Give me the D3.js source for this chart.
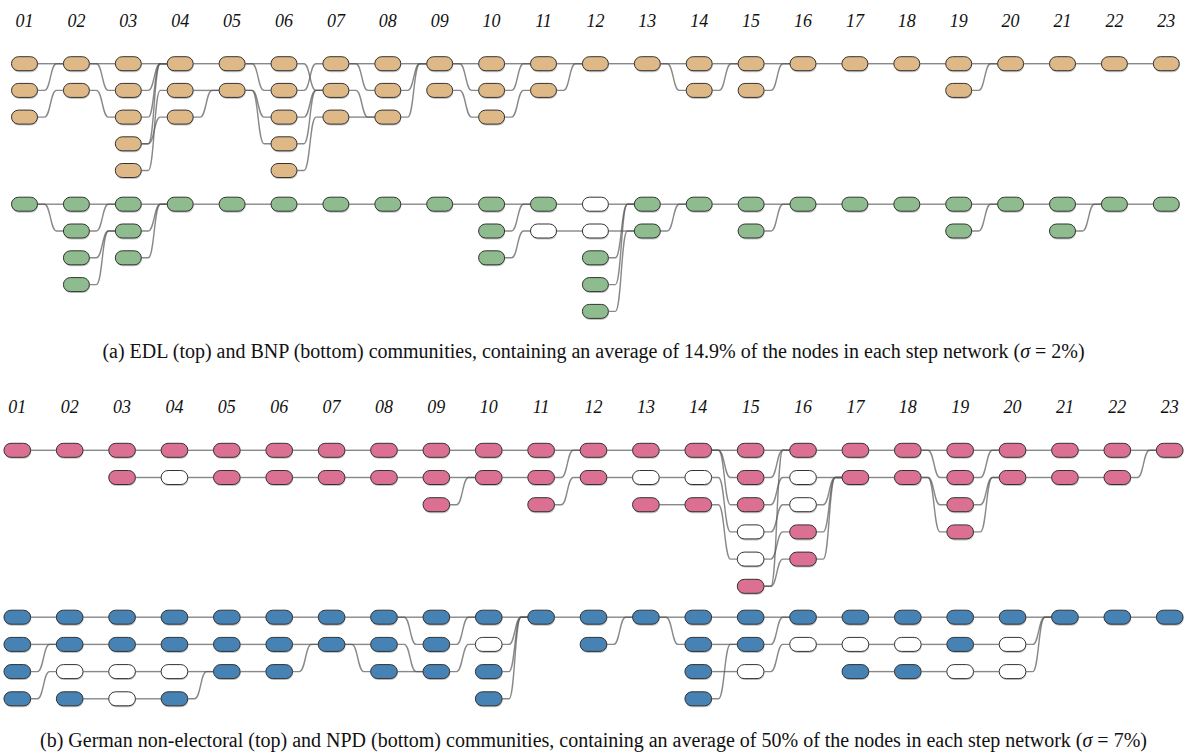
<!DOCTYPE html>
<html>
<head>
<meta charset="utf-8">
<script src="https://cdn.jsdelivr.net/npm/d3@7"></script>
<style>
  body { margin: 0; background: #fff; }
  .step { font-family: "Liberation Serif", "Times New Roman", "DejaVu Serif", serif; font-style: italic; font-size: 18px; fill: #111; }
  .caption { font-family: "Liberation Serif", "Times New Roman", "DejaVu Serif", serif; font-size: 20px; fill: #111; }
  .link { fill: none; stroke: #555; stroke-opacity: 0.7; stroke-width: 1.4; }
  .node { stroke: #333; stroke-width: 1; }
  .shadow { fill: #c4c4c4; stroke: none; }
</style>
</head>
<body>
<svg id="chart" width="1187" height="756"></svg>
<script>
// step labels
const steps = ["01","02","03","04","05","06","07","08","09","10","11","12",
               "13","14","15","16","17","18","19","20","21","22","23"];

// nodes per step: c = member community, w = other (white)
// links per step transition: "from-to" row pairs
const edlNodes = ["ccc","cc","ccccc","ccc","cc","ccccc","ccc","ccc","cc","ccc","cc","c",
                  "c","cc","cc","c","c","c","cc","c","c","c","c"];
const edlLinks = ["0-0 1-0 2-1","0-0 0-1 1-2","0-0 1-0 2-0 3-0 3-2 4-1","0-0 1-1 2-1",
                  "0-0 0-1 1-2 1-3","0-1 1-0 2-1 3-1 4-2","0-0 0-1 1-2 2-2","0-0 1-0 2-0",
                  "0-0 0-1 1-2","0-0 1-0 2-1","0-0 1-0","0-0","0-0 0-1","0-0 1-0","0-0 1-0",
                  "0-0","0-0","0-0","0-0 1-0","0-0","0-0","0-0"];

const bnpNodes = ["c","cccc","ccc","c","c","c","c","c","c","ccc","cw","wwccc",
                  "cc","c","cc","c","c","c","cc","c","cc","c","c"];
const bnpLinks = ["0-0 0-1","0-0 1-0 2-1 3-1","0-0 1-0 2-0","0-0","0-0","0-0","0-0","0-0",
                  "0-0","0-0 1-0 2-1","0-0 1-1","0-0 1-1 2-0 3-0 4-1","0-0 1-0","0-0",
                  "0-0 1-0","0-0","0-0","0-0","0-0 1-0","0-0","0-0 1-0","0-0"];

const germanNodes = ["c","c","cc","cw","cc","cc","cc","cc","ccc","cc","ccc","cc",
                     "cwc","cwc","cccwwc","cwwcc","cc","cc","cccc","cc","cc","cc","c"];
const germanLinks = ["0-0","0-0","0-0 1-1","0-0 1-1","0-0 1-1","0-0 1-1","0-0 1-1","0-0 1-1",
                     "0-0 1-1 2-1","0-0 1-1","0-0 1-0 2-1","0-0 1-1","0-0 1-1 2-2",
                     "0-0 0-1 0-2 1-3 2-4","0-0 1-0 2-1 3-2 4-3 5-4 5-0","0-0 1-1 2-1 3-1 4-1",
                     "0-0 1-1","0-0 0-1 1-2 1-3","0-0 1-0 2-1 3-1","0-0 1-1","0-0 1-1","0-0 1-0"];

const npdNodes = ["cccc","ccwc","ccww","ccwc","ccc","ccc","cc","ccc","ccc","cwcc","c","cc",
                  "c","cccc","ccw","cw","cwc","cwc","ccw","cww","c","c","c"];
const npdLinks = ["0-0 1-1 2-1 3-2","0-0 1-1 2-2 3-3","0-0 1-1 2-2 3-3","0-0 1-1 2-2 3-2",
                  "0-0 1-1 2-2","0-0 1-1 2-1","0-0 1-1 1-2","0-0 0-1 1-2 2-2","0-0 1-0 2-1",
                  "0-0 1-0 2-0 3-0","0-0","0-0 1-0","0-0 0-1","0-0 1-1 2-2 3-1","0-0 1-0 2-1",
                  "0-0 1-1","0-0 1-1 2-2","0-0 1-1 2-2","0-0 1-1 2-2","0-0 1-0 2-0","0-0","0-0"];

const captionA = ["(a) EDL (top) and BNP (bottom) communities, containing an average of ",
                  "14.9%", " of the nodes in each step network (", "σ", " = 2%)"];
const captionB = ["(b) German non-electoral (top) and NPD (bottom) communities, containing an average of ",
                  "50%", " of the nodes in each step network (", "σ", " = 7%)"];

const svg = d3.select("#chart");

function linkPath(x1, y1, x2, y2) {
  if (y1 === y2) return `M${x1},${y1}H${x2}`;
  const mid = (x1 + x2) / 2, h = 6;
  return `M${x1},${y1}H${mid - h}C${mid},${y1} ${mid},${y2} ${mid + h},${y2}H${x2}`;
}

function drawGroup(g, nodes, links, x, y, nodeW, color) {
  const nodeH = 14;
  const linkData = [];
  links.forEach((s, i) => {
    s.split(" ").forEach(p => {
      const [a, b] = p.split("-").map(Number);
      linkData.push({ from: i, a: a, to: i + 1, b: b });
    });
  });
  g.append("g").selectAll("path")
    .data(linkData)
    .join("path")
    .attr("class", "link")
    .attr("d", d => linkPath(x(steps[d.from]) + nodeW / 2, y(d.a),
                             x(steps[d.to]) - nodeW / 2, y(d.b)));

  const nodeData = [];
  nodes.forEach((s, i) => {
    s.split("").forEach((t, r) => nodeData.push({ col: i, row: r, kind: t }));
  });
  const ng = g.append("g");
  ng.selectAll("rect.shadow")
    .data(nodeData)
    .join("rect")
    .attr("class", "shadow")
    .attr("x", d => x(steps[d.col]) - nodeW / 2 + 0.5)
    .attr("y", d => y(d.row) - nodeH / 2 + 1.5)
    .attr("width", nodeW)
    .attr("height", nodeH)
    .attr("rx", 7);
  ng.selectAll("rect.node")
    .data(nodeData)
    .join("rect")
    .attr("class", "node")
    .attr("x", d => x(steps[d.col]) - nodeW / 2)
    .attr("y", d => y(d.row) - nodeH / 2)
    .attr("width", nodeW)
    .attr("height", nodeH)
    .attr("rx", 7)
    .attr("fill", d => d.kind === "c" ? color : "#fff");
}

function drawLabels(x, yBase) {
  svg.append("g").selectAll("text")
    .data(steps)
    .join("text")
    .attr("class", "step")
    .attr("x", d => x(d))
    .attr("y", yBase)
    .attr("text-anchor", "middle")
    .text(d => d);
}

function drawCaption(parts, yBase) {
  const t = svg.append("text")
    .attr("class", "caption")
    .attr("x", 593.5)
    .attr("y", yBase)
    .attr("text-anchor", "middle");
  parts.forEach((p, i) => {
    const ts = t.append("tspan").text(p);
    if (i === 3) ts.attr("font-style", "italic");
  });
}

// panel (a)
const xA = d3.scalePoint().domain(steps).range([24.5, 1166.3]);
drawLabels(xA, 27);
drawGroup(svg.append("g"), edlNodes, edlLinks, xA,
  d3.scaleLinear().domain([0, 1]).range([63.7, 90.4]), 26, "burlywood");
drawGroup(svg.append("g"), bnpNodes, bnpLinks, xA,
  d3.scaleLinear().domain([0, 1]).range([204.2, 231]), 26, "darkseagreen");
drawCaption(captionA, 358);

// panel (b)
const xB = d3.scalePoint().domain(steps).range([17.3, 1169.7]);
drawLabels(xB, 413);
drawGroup(svg.append("g"), germanNodes, germanLinks, xB,
  d3.scaleLinear().domain([0, 1]).range([450.3, 477.5]), 26.7, "palevioletred");
drawGroup(svg.append("g"), npdNodes, npdLinks, xB,
  d3.scaleLinear().domain([0, 1]).range([617.2, 644.4]), 26.7, "steelblue");
drawCaption(captionB, 747);
</script>
</body>
</html>
